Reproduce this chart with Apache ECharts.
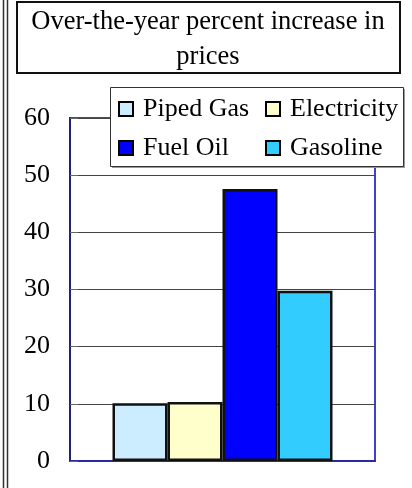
<!DOCTYPE html>
<html>
<head>
<meta charset="utf-8">
<script src="https://cdn.jsdelivr.net/npm/echarts@6/dist/echarts.min.js"></script>
<style>html,body{margin:0;padding:0;background:#fff;}#c{width:412px;height:488px;}</style>
</head>
<body>
<div id="c"></div>
<script>
var titleText = 'Over-the-year percent increase in\nprices';
var categories = [''];
var seriesNames = ['Piped Gas', 'Electricity', 'Fuel Oil', 'Gasoline'];
var seriesValues = [10.1, 10.3, 47.6, 29.8];
var seriesColors = ['#CCECFF', '#FFFFCC', '#0000FF', '#33CCFF'];
var yTicks = [0, 10, 20, 30, 40, 50, 60];

var FONT = '"Liberation Serif", "Times New Roman", serif';
var chart = echarts.init(document.getElementById('c'), null, {renderer: 'canvas'});

var series = seriesNames.map(function (n, i) {
  return {
    name: n,
    type: 'bar',
    data: [seriesValues[i]],
    barWidth: 55,
    barGap: '0%',
    itemStyle: {color: seriesColors[i], borderColor: '#111', borderWidth: 2.5},
    emphasis: {disabled: true}
  };
});

function makeLegend(left, names) {
  return {
    orient: 'vertical',
    left: left,
    top: 96,
    padding: 0,
    itemGap: 13,
    itemWidth: 14,
    itemHeight: 14,
    icon: 'rect',
    z: 30,
    selectedMode: false,
    data: names,
    itemStyle: {borderColor: '#000', borderWidth: 2},
    textStyle: {fontFamily: FONT, fontSize: 26, color: '#000', padding: [0, 0, 0, 5]}
  };
}

chart.setOption({
  backgroundColor: '#fff',
  animation: false,
  title: {
    text: titleText,
    left: 208,
    top: 5,
    textAlign: 'center',
    padding: 0,
    textStyle: {fontFamily: FONT, fontSize: 26.5, fontWeight: 'normal', color: '#000', lineHeight: 35}
  },
  legend: [
    makeLegend(118, [seriesNames[0], seriesNames[2]]),
    makeLegend(265, [seriesNames[1], seriesNames[3]])
  ],
  grid: {
    left: 70, right: 37, top: 118, bottom: 27,
    show: true, borderColor: '#4040d0', borderWidth: 2, backgroundColor: 'transparent'
  },
  xAxis: {
    type: 'category',
    data: categories,
    axisLine: {show: true, lineStyle: {color: '#2a2aa0', width: 2}},
    axisTick: {show: false},
    axisLabel: {show: false},
    splitLine: {show: false}
  },
  yAxis: {
    type: 'value',
    min: yTicks[0],
    max: yTicks[yTicks.length - 1],
    interval: 10,
    axisLine: {show: true, lineStyle: {color: '#20207a', width: 2}},
    axisTick: {show: true, inside: true, length: 8, lineStyle: {color: '#666'}},
    axisLabel: {fontFamily: FONT, fontSize: 26, color: '#000', margin: 20, padding: [3, 0, 0, 0]},
    splitLine: {show: true, lineStyle: {color: '#444', width: 1}}
  },
  graphic: [
    {type: 'line', shape: {x1: 3.5, y1: 0, x2: 3.5, y2: 488}, style: {stroke: '#333', lineWidth: 1.5}},
    {type: 'line', shape: {x1: 7.5, y1: 0, x2: 7.5, y2: 488}, style: {stroke: '#333', lineWidth: 1.5}},
    {type: 'rect', shape: {x: 17, y: 2, width: 383, height: 71}, style: {fill: 'transparent', stroke: '#111', lineWidth: 2}, z: 10},
    {type: 'rect', shape: {x: 112, y: 89, width: 293, height: 79}, style: {fill: '#999'}, z: 8},
    {type: 'rect', shape: {x: 110.5, y: 87.5, width: 293, height: 79}, style: {fill: '#fff', stroke: '#333', lineWidth: 1}, z: 9}
  ],
  series: series
});
</script>
</body>
</html>
